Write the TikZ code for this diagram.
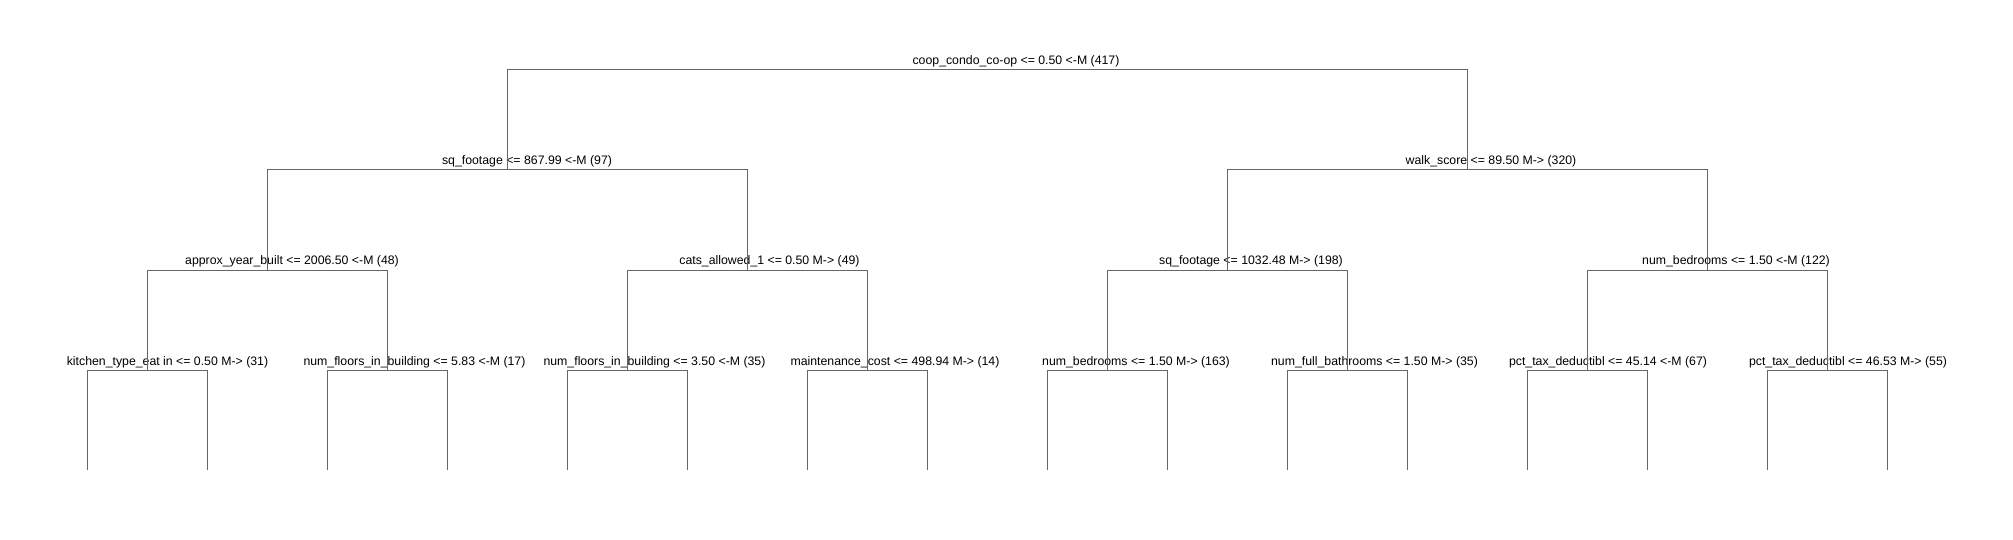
\documentclass[tikz,border=0pt]{standalone}
\usepackage{fontspec}
\setmainfont{Liberation Sans}
\usepackage{tikz}
\usetikzlibrary{positioning}
\definecolor{treegray}{HTML}{666666}

\begin{document}
\begin{tikzpicture}[x=1pt,y=-1pt,
  cond/.style={anchor=base,inner sep=0pt,font=\fontsize{12.3pt}{14pt}\selectfont},
  branch/.style={draw=treegray,line width=1pt}]
  \useasboundingbox (0,0) rectangle (2013,540);

  % split points
  \coordinate (coop) at (987,70);
  \coordinate[below left=100pt and 480pt of coop]   (sqftA);
  \coordinate[below right=100pt and 480pt of coop]  (walk);
  \coordinate[below left=100pt and 240pt of sqftA]  (yearb);
  \coordinate[below right=100pt and 240pt of sqftA] (cats);
  \coordinate[below left=100pt and 240pt of walk]   (sqftB);
  \coordinate[below right=100pt and 240pt of walk]  (bedsA);
  \coordinate[below left=100pt and 120pt of yearb]  (kitch);
  \coordinate[below right=100pt and 120pt of yearb] (floorsA);
  \coordinate[below left=100pt and 120pt of cats]   (floorsB);
  \coordinate[below right=100pt and 120pt of cats]  (maint);
  \coordinate[below left=100pt and 120pt of sqftB]  (bedsB);
  \coordinate[below right=100pt and 120pt of sqftB] (baths);
  \coordinate[below left=100pt and 120pt of bedsA]  (taxA);
  \coordinate[below right=100pt and 120pt of bedsA] (taxB);

  % conditions
  \node[cond] (coop-t)    at ([xshift=29pt,yshift=5pt]coop)      {coop\_condo\_co-op <= 0.50 <-M (417)};
  \node[cond] (sqftA-t)   at ([xshift=20pt,yshift=5pt]sqftA)     {sq\_footage <= 867.99 <-M (97)};
  \node[cond] (walk-t)    at ([xshift=24pt,yshift=5pt]walk)      {walk\_score <= 89.50 M-> (320)};
  \node[cond] (yearb-t)   at ([xshift=25pt,yshift=5pt]yearb)     {approx\_year\_built <= 2006.50 <-M (48)};
  \node[cond] (cats-t)    at ([xshift=22.5pt,yshift=5pt]cats)    {cats\_allowed\_1 <= 0.50 M-> (49)};
  \node[cond] (sqftB-t)   at ([xshift=24pt,yshift=5pt]sqftB)     {sq\_footage <= 1032.48 M-> (198)};
  \node[cond] (bedsA-t)   at ([xshift=29pt,yshift=5pt]bedsA)     {num\_bedrooms <= 1.50 <-M (122)};
  \node[cond] (kitch-t)   at ([xshift=20.5pt,yshift=5pt]kitch)   {kitchen\_type\_eat in <= 0.50 M-> (31)};
  \node[cond] (floorsA-t) at ([xshift=27.5pt,yshift=5pt]floorsA) {num\_floors\_in\_building <= 5.83 <-M (17)};
  \node[cond] (floorsB-t) at ([xshift=27.5pt,yshift=5pt]floorsB) {num\_floors\_in\_building <= 3.50 <-M (35)};
  \node[cond] (maint-t)   at ([xshift=28pt,yshift=5pt]maint)     {maintenance\_cost <= 498.94 M-> (14)};
  \node[cond] (bedsB-t)   at ([xshift=29pt,yshift=5pt]bedsB)     {num\_bedrooms <= 1.50 M-> (163)};
  \node[cond] (baths-t)   at ([xshift=27.5pt,yshift=5pt]baths)   {num\_full\_bathrooms <= 1.50 M-> (35)};
  \node[cond] (taxA-t)    at ([xshift=21pt,yshift=5pt]taxA)      {pct\_tax\_deductibl <= 45.14 <-M (67)};
  \node[cond] (taxB-t)    at ([xshift=21pt,yshift=5pt]taxB)      {pct\_tax\_deductibl <= 46.53 M-> (55)};

  \draw[branch] (coop) -| (sqftA) (coop) -| (walk);
  \draw[branch] (sqftA) -| (yearb) (sqftA) -| (cats);
  \draw[branch] (walk) -| (sqftB) (walk) -| (bedsA);
  \draw[branch] (yearb) -| (kitch) (yearb) -| (floorsA);
  \draw[branch] (cats) -| (floorsB) (cats) -| (maint);
  \draw[branch] (sqftB) -| (bedsB) (sqftB) -| (baths);
  \draw[branch] (bedsA) -| (taxA) (bedsA) -| (taxB);

  % leaves
  \foreach \n in {kitch,floorsA,floorsB,maint,bedsB,baths,taxA,taxB} {
    \coordinate[below left=100pt and 60pt of \n]  (\n-l);
    \coordinate[below right=100pt and 60pt of \n] (\n-r);
    \draw[branch] (\n) -| (\n-l) (\n) -| (\n-r);
  }
\end{tikzpicture}
\end{document}
